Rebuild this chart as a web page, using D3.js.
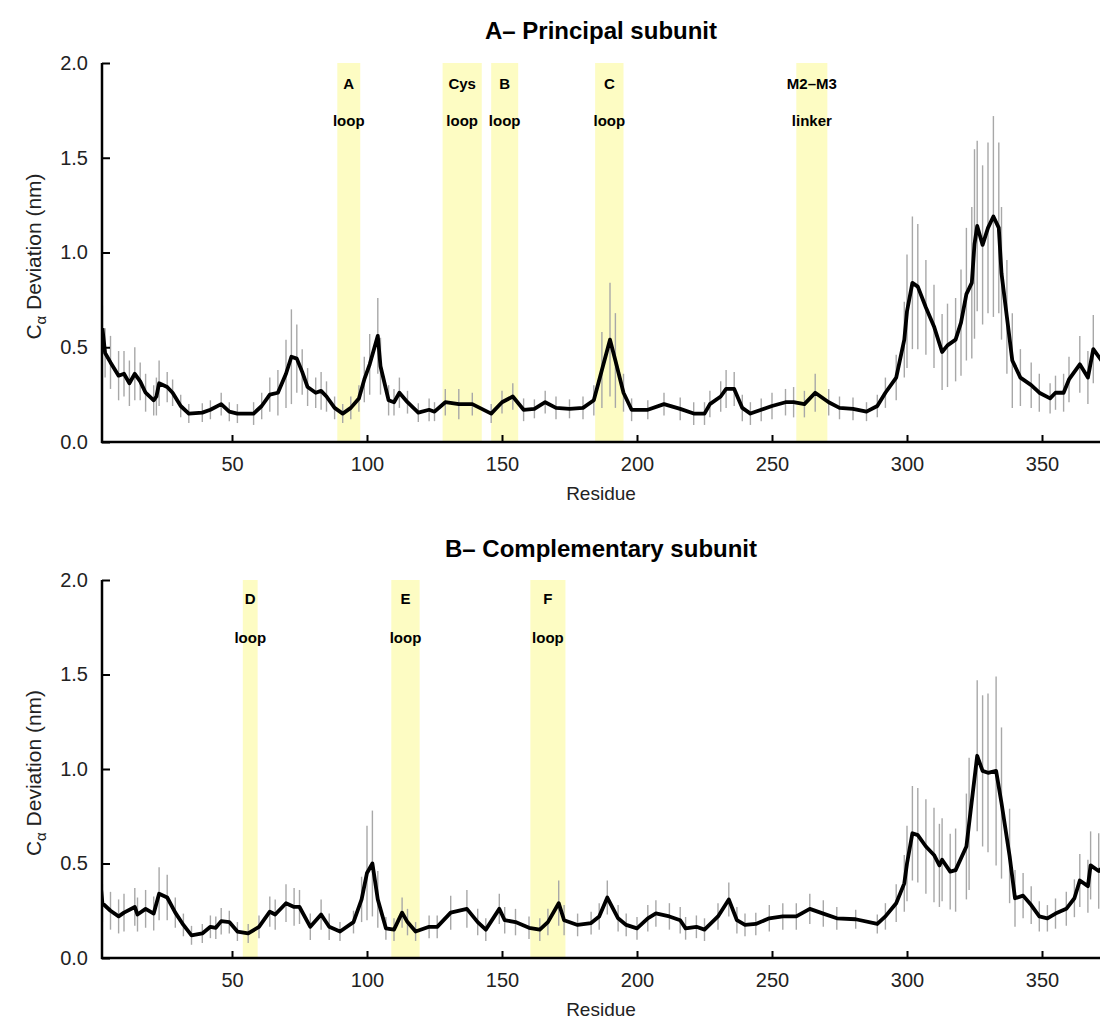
<!DOCTYPE html>
<html><head><meta charset="utf-8">
<script src="https://cdn.jsdelivr.net/npm/d3@7"></script>
<style>body{margin:0;background:#fff}svg{display:block}text{font-family:"Liberation Sans",Arial,sans-serif}</style>
</head><body>
<svg id="c" width="1100" height="1021"></svg>
<script>
// ---- Data ----
const titles = ["A\u2013 Principal subunit", "B\u2013 Complementary subunit"];
const xTicks = [50, 100, 150, 200, 250, 300, 350];
const yTicks = [0.0, 0.5, 1.0, 1.5, 2.0];

const residuesA = [2,3,5,8,10,12,14,16,18,21,22,23,26,28,31,34,39,42,46,49,52,58,61,64,67,70,72,74,76,78,81,83,85,88,91,94,97,99,101,104,105,108,110,112,115,119,123,125,129,134,139,146,150,154,158,162,166,170,175,180,184,187,190,192,195,198,204,210,216,221,225,227,231,233,236,239,242,246,250,255,258,262,266,271,275,280,285,289,292,296,299,300,302,304,307,310,313,315,318,320,322,324,325,326,328,330,332,334,335,337,339,342,346,349,353,355,358,360,364,367,369,372,374];
const meanA = [0.60,0.47,0.42,0.35,0.36,0.31,0.36,0.32,0.26,0.22,0.24,0.31,0.29,0.26,0.19,0.15,0.155,0.17,0.20,0.16,0.15,0.15,0.19,0.25,0.26,0.36,0.45,0.44,0.37,0.29,0.26,0.27,0.24,0.18,0.15,0.18,0.23,0.33,0.41,0.56,0.40,0.22,0.21,0.26,0.21,0.155,0.17,0.16,0.21,0.20,0.20,0.15,0.21,0.24,0.17,0.175,0.21,0.18,0.175,0.18,0.22,0.38,0.54,0.43,0.26,0.17,0.17,0.20,0.175,0.15,0.15,0.20,0.24,0.28,0.28,0.18,0.15,0.17,0.19,0.21,0.21,0.20,0.26,0.21,0.18,0.175,0.16,0.19,0.26,0.34,0.54,0.69,0.84,0.82,0.71,0.61,0.475,0.51,0.54,0.63,0.78,0.84,1.045,1.14,1.04,1.13,1.19,1.13,0.89,0.66,0.43,0.34,0.30,0.26,0.23,0.26,0.26,0.33,0.41,0.34,0.49,0.43,0.42];
const sdA = [0.12,0.13,0.14,0.13,0.12,0.12,0.14,0.10,0.10,0.08,0.10,0.12,0.08,0.07,0.06,0.05,0.05,0.05,0.06,0.05,0.05,0.06,0.07,0.09,0.12,0.18,0.25,0.18,0.12,0.10,0.08,0.10,0.08,0.06,0.05,0.06,0.07,0.12,0.16,0.20,0.15,0.08,0.07,0.08,0.06,0.05,0.06,0.05,0.07,0.08,0.06,0.05,0.06,0.07,0.06,0.05,0.06,0.06,0.05,0.06,0.08,0.20,0.30,0.25,0.10,0.06,0.05,0.06,0.06,0.06,0.06,0.07,0.08,0.10,0.09,0.07,0.06,0.06,0.07,0.07,0.08,0.07,0.10,0.07,0.06,0.06,0.05,0.06,0.08,0.12,0.20,0.30,0.35,0.33,0.25,0.22,0.20,0.22,0.22,0.28,0.35,0.40,0.50,0.45,0.42,0.45,0.53,0.45,0.35,0.30,0.25,0.15,0.12,0.10,0.08,0.09,0.10,0.12,0.15,0.14,0.18,0.15,0.15];

const residuesB = [1,2,5,8,10,14,15,18,21,23,26,29,32,35,39,42,44,46,49,52,56,60,64,66,70,73,75,79,83,86,90,95,98,100,102,104,107,110,113,115,118,123,126,131,137,141,144,149,151,155,160,164,167,171,173,178,183,186,189,193,196,200,204,207,212,216,218,222,225,230,234,237,240,244,249,254,259,264,269,274,281,289,292,296,299,300,302,304,307,310,312,313,316,318,322,323,326,328,330,333,335,338,340,343,346,349,352,355,359,362,364,367,368,371,374];
const meanB = [0.44,0.29,0.25,0.22,0.24,0.27,0.23,0.26,0.235,0.34,0.32,0.24,0.175,0.12,0.13,0.165,0.16,0.195,0.19,0.14,0.13,0.165,0.245,0.23,0.29,0.27,0.27,0.165,0.23,0.165,0.14,0.19,0.31,0.45,0.50,0.31,0.157,0.15,0.24,0.19,0.14,0.165,0.165,0.24,0.26,0.19,0.15,0.26,0.20,0.19,0.16,0.15,0.19,0.29,0.20,0.175,0.185,0.22,0.32,0.21,0.175,0.157,0.21,0.236,0.22,0.20,0.157,0.165,0.15,0.22,0.31,0.20,0.175,0.18,0.21,0.22,0.22,0.26,0.235,0.21,0.205,0.18,0.22,0.29,0.395,0.50,0.66,0.65,0.59,0.545,0.49,0.52,0.457,0.465,0.59,0.71,1.07,0.99,0.98,0.99,0.82,0.54,0.316,0.33,0.28,0.22,0.21,0.235,0.26,0.316,0.41,0.38,0.49,0.46,0.50];
const sdB = [0.08,0.10,0.10,0.09,0.10,0.10,0.09,0.10,0.09,0.14,0.12,0.08,0.06,0.05,0.05,0.06,0.06,0.07,0.06,0.05,0.05,0.06,0.08,0.08,0.10,0.10,0.09,0.07,0.08,0.07,0.05,0.06,0.12,0.25,0.28,0.15,0.06,0.06,0.08,0.07,0.05,0.06,0.06,0.09,0.10,0.07,0.06,0.08,0.07,0.07,0.06,0.06,0.07,0.12,0.08,0.06,0.06,0.07,0.09,0.07,0.06,0.06,0.07,0.07,0.07,0.07,0.06,0.06,0.06,0.07,0.09,0.07,0.06,0.06,0.07,0.07,0.07,0.08,0.07,0.06,0.05,0.05,0.07,0.10,0.15,0.20,0.25,0.25,0.25,0.25,0.22,0.22,0.20,0.22,0.28,0.35,0.40,0.40,0.42,0.50,0.40,0.25,0.15,0.12,0.10,0.08,0.07,0.08,0.09,0.10,0.14,0.14,0.18,0.20,0.22];

const bandsA = [[89,97.5],[128,142.5],[146,156],[184.5,195],[259,270.5]];
const bandLabelsA = [["A","loop"],["Cys","loop"],["B","loop"],["C","loop"],["M2\u2013M3","linker"]];
const bandsB = [[54,59.5],[109,119.5],[160.5,173.5]];
const bandLabelsB = [["D","loop"],["E","loop"],["F","loop"]];

// ---- Drawing ----
const svg = d3.select("#c");
const x = d3.scaleLinear().domain([0, 400]).range([97, 1177]);
const xLeft = 102, xRight = 1100;

const panels = [
  {title: titles[0], top: 63, bottom: 442, titleY: 39, lab1: 20, res: residuesA, mean: meanA, sd: sdA, bands: bandsA, labels: bandLabelsA, id: "a"},
  {title: titles[1], top: 580, bottom: 958, titleY: 557, lab1: 18, res: residuesB, mean: meanB, sd: sdB, bands: bandsB, labels: bandLabelsB, id: "b"}
];

panels.forEach(p => {
  const y = d3.scaleLinear().domain([0, 2]).range([p.bottom, p.top]);
  const g = svg.append("g");
  svg.append("clipPath").attr("id", "clip" + p.id).append("rect")
    .attr("x", xLeft).attr("y", p.top - 30).attr("width", xRight - xLeft).attr("height", p.bottom - p.top + 30);

  // bands
  g.selectAll("rect.band").data(p.bands).join("rect").attr("class", "band")
    .attr("x", d => x(d[0])).attr("width", d => x(d[1]) - x(d[0]))
    .attr("y", y(2)).attr("height", y(0) - y(2)).attr("fill", "#fdfcc3");
  // band labels
  p.bands.forEach((b, i) => {
    const cx = (x(b[0]) + x(b[1])) / 2;
    g.append("text").attr("x", cx).attr("y", y(2) + p.lab1).attr("text-anchor", "middle")
      .attr("dominant-baseline", "central").attr("font-size", 15).attr("font-weight", "bold").text(p.labels[i][0]);
    g.append("text").attr("x", cx).attr("y", y(2) + 57).attr("text-anchor", "middle")
      .attr("dominant-baseline", "central").attr("font-size", 15).attr("font-weight", "bold").text(p.labels[i][1]);
  });

  const data = p.res.map((r, i) => ({r, m: p.mean[i], s: p.sd[i]}));
  const plot = g.append("g").attr("clip-path", `url(#clip${p.id})`);
  // error bars
  plot.selectAll("line.err").data(data).join("line").attr("class", "err")
    .attr("x1", d => x(d.r)).attr("x2", d => x(d.r))
    .attr("y1", d => y(Math.max(0, d.m - d.s))).attr("y2", d => y(d.m + d.s))
    .attr("stroke", "#a8a8a8").attr("stroke-width", 1.4);
  // mean line
  plot.append("path").datum(data)
    .attr("d", d3.line().x(d => x(d.r)).y(d => y(d.m)))
    .attr("fill", "none").attr("stroke", "#000").attr("stroke-width", 3.8).attr("stroke-linejoin", "round");

  // axes
  const xAxis = d3.axisBottom(x).tickValues(xTicks).tickSize(-7).tickPadding(15).tickFormat(d3.format("d"));
  const ax = g.append("g").attr("transform", `translate(0,${p.bottom})`).call(xAxis);
  ax.select(".domain").remove();
  ax.append("line").attr("x1", xLeft - 1).attr("x2", xRight).attr("stroke", "#000").attr("stroke-width", 2.5);
  ax.selectAll(".tick line").attr("stroke", "#000").attr("stroke-width", 2);
  ax.selectAll(".tick text").attr("font-size", 20).attr("fill", "#222").attr("font-family", "Liberation Sans, Arial, sans-serif");

  const yAxis = d3.axisLeft(y).tickValues(yTicks).tickSize(-8).tickPadding(14).tickFormat(d3.format(".1f"));
  const ay = g.append("g").attr("transform", `translate(${xLeft},0)`).call(yAxis);
  ay.select(".domain").remove();
  ay.append("line").attr("y1", p.top).attr("y2", p.bottom + 1).attr("stroke", "#000").attr("stroke-width", 2.5);
  ay.selectAll(".tick line").attr("stroke", "#000").attr("stroke-width", 2);
  ay.selectAll(".tick text").attr("font-size", 20).attr("fill", "#222").attr("font-family", "Liberation Sans, Arial, sans-serif");

  // titles
  svg.append("text").attr("x", 601).attr("y", p.titleY).attr("text-anchor", "middle")
    .attr("font-size", 24).attr("font-weight", "bold").text(p.title);
  svg.append("text").attr("x", 601).attr("y", p.bottom + 58).attr("text-anchor", "middle")
    .attr("font-size", 19).attr("fill", "#222").text("Residue");
  const yl = svg.append("text").attr("transform", `translate(41,${(p.top + p.bottom) / 2 + 4}) rotate(-90)`)
    .attr("text-anchor", "middle").attr("font-size", 21).attr("fill", "#222");
  yl.append("tspan").text("C");
  yl.append("tspan").attr("font-size", 15).attr("dy", 5).text("\u03b1");
  yl.append("tspan").attr("dy", -5).text(" Deviation (nm)");
});
</script>
</body></html>
